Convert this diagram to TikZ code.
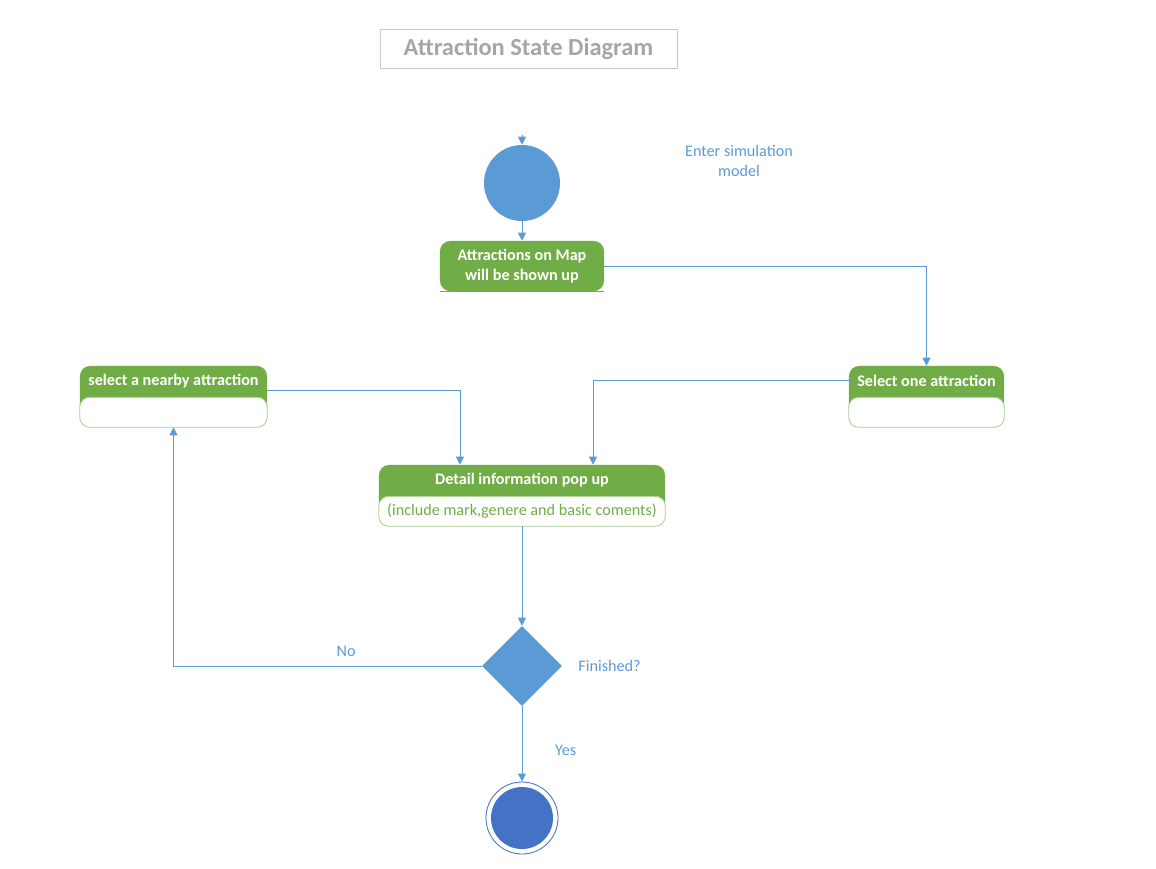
\documentclass[tikz,border=0pt]{standalone}
\usepackage{fontspec}
\setmainfont{Carlito}
\usepackage{tikz}
\usetikzlibrary{arrows.meta,positioning,shapes.geometric}
\definecolor{flowblue}{HTML}{5B9BD5}
\definecolor{stategreen}{HTML}{70AD47}
\definecolor{lightgreen}{HTML}{A9D18E}
\definecolor{endblue}{HTML}{4472C4}
\definecolor{titlegray}{HTML}{A6A6A6}
\definecolor{framegray}{HTML}{C8C8C8}

\begin{document}
\begin{tikzpicture}[x=0.025cm, y=-0.025cm,
        flow/.style = {draw=flowblue, line width=0.6pt, -{Triangle[length=0.2cm,width=0.2cm]}},
        statebox/.style = {rectangle, rounded corners=0.25cm, fill=stategreen, inner sep=0pt, minimum height=1.525cm},
        boxbody/.style = {fill=white, draw=lightgreen, line width=0.6pt, rounded corners=0.25cm},
        header/.style = {text=white, font=\fontsize{11.5}{14}\selectfont\bfseries, align=center},
        note/.style = {text=flowblue, font=\fontsize{11.5}{14}\selectfont, align=center}]
        \useasboundingbox (0,0) rectangle (1156,868);
        \node (title) at (528.5,48.5) [draw=framegray, line width=0.6pt, minimum width=7.425cm, minimum height=0.975cm, text=titlegray, font=\fontsize{17.4}{20}\selectfont\bfseries] {Attraction State Diagram};
        \coordinate (init) at (522,135);
        \node (start) at (522,183) [circle, fill=flowblue, minimum size=1.9cm, inner sep=0pt] {};
        \node (enter) at (739,161) [note] {Enter simulation\\model};
        \node (shown) at (522,266) [statebox, header, minimum width=4.1cm, minimum height=1.25cm] {Attractions on Map\\will be shown up};
        \path [draw, stategreen, line width=0.6pt] (shown.south west) -- (shown.south east);
        \node (nearby) at (173.5,396.5) [statebox, minimum width=4.675cm] {};
        \path [boxbody] ([yshift=0.75cm]nearby.south west) rectangle (nearby.south east);
        \node (nearbytitle) at ([yshift=-0.375cm]nearby.north) [header] {select a nearby attraction};
        \node (selectone) at (926.5,396.5) [statebox, minimum width=3.875cm] {};
        \path [boxbody] ([yshift=0.75cm]selectone.south west) rectangle (selectone.south east);
        \node (selectonetitle) at ([yshift=-0.375cm]selectone.north) [header] {Select one attraction};
        \node (detail) at (522,495.5) [statebox, minimum width=7.15cm] {};
        \path [boxbody] ([yshift=0.75cm]detail.south west) rectangle (detail.south east);
        \node (detailtitle) at ([yshift=-0.375cm]detail.north) [header] {Detail information pop up};
        \node (detailtext) at ([yshift=0.375cm]detail.south) [note, text=stategreen] {(include mark,genere and basic coments)};
        \node (choice) at (522,666) [diamond, fill=flowblue, minimum width=2cm, minimum height=2cm, inner sep=0pt] {};
        \node (finished) [right=0.28cm of choice, note] {Finished?};
        \node (finish) at (522,818) [circle, draw=endblue, line width=0.6pt, fill=white, minimum size=1.8cm, inner sep=0pt] {};
        \node (finishdot) at (finish) [circle, fill=endblue, minimum size=1.55cm, inner sep=0pt] {};
        \path [flow] (init) -- (start);
        \path [flow] (start) -- (shown);
        \path [flow] (shown.east) -| (selectone.north);
        \path [flow] ([yshift=0.16cm]nearby.east) -| ([xshift=-1.55cm]detail.north);
        \path [flow] ([yshift=0.39cm]selectone.west) -| ([xshift=1.775cm]detail.north);
        \path [flow] (detail) -- (choice);
        \path [flow] (choice.west) -| node (nolabel) [pos=0.22, above=0.1cm, note] {No} (nearby.south);
        \path [flow] (choice) -- node (yeslabel) [pos=0.58, right=0.7cm, note] {Yes} (finish);
    \end{tikzpicture}
\end{document}
